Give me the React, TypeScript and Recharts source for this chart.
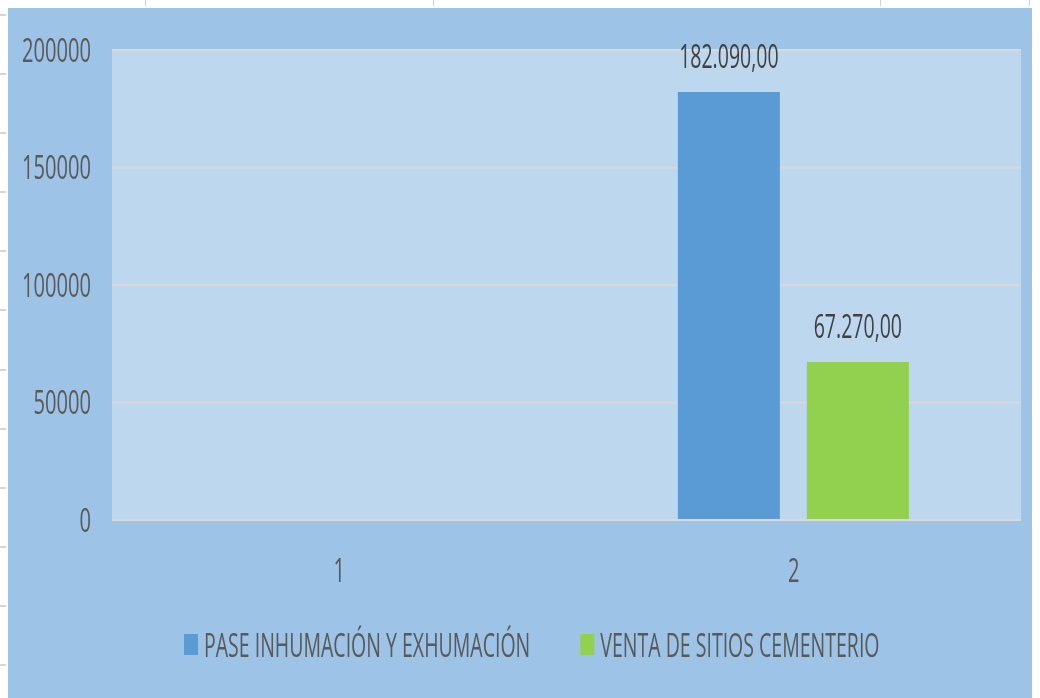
import React from 'react'
import { BarChart, Bar, XAxis, YAxis, CartesianGrid, Legend, LabelList } from 'recharts'

const categories = ['1', '2']
const paseValues: (number | null)[] = [null, 182090]
const ventaValues: (number | null)[] = [null, 67270]
const yTicks = [0, 50000, 100000, 150000, 200000]
const seriesNames = ['PASE INHUMACIÓN Y EXHUMACIÓN', 'VENTA DE SITIOS CEMENTERIO']
const seriesColors = ['#5B9BD5', '#92D050']

const data = categories.map((c, i) => ({ cat: c, pase: paseValues[i], venta: ventaValues[i] }))

// the source font is a narrow one, so squeeze a normal sans horizontally
const SX = 0.61
const FONT = '"Open Sans", "Noto Sans", sans-serif'

const fmt = (v: number) => {
  const [int, dec] = v.toFixed(2).split('.')
  return int.replace(/\B(?=(\d{3})+(?!\d))/g, '.') + ',' + dec
}

const measure = (text: string, size: number) => {
  const ctx = document.createElement('canvas').getContext('2d')
  if (!ctx) return text.length * size * 0.6
  ctx.font = `${size}px ${FONT}`
  return ctx.measureText(text).width
}

const YTick = (props: any) => {
  const { x, y, payload } = props
  return (
    <g transform={`translate(${x},${y})`}>
      <text transform={`scale(${SX},1)`} textAnchor="end" dy={11.5} fill="#595959" fontSize={33} fontFamily={FONT}>
        {payload.value}
      </text>
    </g>
  )
}

const XTick = (props: any) => {
  const { x, y, payload } = props
  return (
    <g transform={`translate(${x},${y})`}>
      <text transform={`scale(${SX},1)`} textAnchor="middle" dy={62} fill="#595959" fontSize={33} fontFamily={FONT}>
        {payload.value}
      </text>
    </g>
  )
}

const BarLabel = (props: any) => {
  const { x, y, width, value } = props
  if (value == null) return null
  return (
    <g transform={`translate(${x + width / 2},${y - 24})`}>
      <text transform={`scale(${SX},1)`} textAnchor="middle" fill="#404040" fontSize={32} fontFamily={FONT}>
        {fmt(value)}
      </text>
    </g>
  )
}

const LegendContent = () => {
  const size = 32
  let cursor = 0
  const items = seriesNames.map((name, i) => {
    const w = measure(name, size) * SX
    const item = { name, color: seriesColors[i], x: cursor }
    cursor += 20 + w + 50
    return item
  })
  return (
    <div style={{ height: 40, paddingLeft: 176 }}>
      <svg width={cursor + 40} height={40} style={{ display: 'block', overflow: 'visible' }}>
        {items.map((it) => (
          <g key={it.name}>
            <rect x={it.x} y={6} width={14} height={21} fill={it.color} />
            <g transform={`translate(${it.x + 20},28.5)`}>
              <text transform={`scale(${SX},1)`} fill="#595959" fontSize={size} fontFamily={FONT}>
                {it.name}
              </text>
            </g>
          </g>
        ))}
      </svg>
    </div>
  )
}

const colLines = [145, 433, 880, 1029]
const rowLines = [14, 73, 132, 191, 250, 309, 369, 428, 487, 546, 605, 664]

export default function App() {
  return (
    <div>
      {colLines.map((x) => (
        <div key={x} style={{ position: 'fixed', left: x, top: 0, width: 1, height: 6, background: '#d0d0d0' }} />
      ))}
      {rowLines.map((y) => (
        <div key={y} style={{ position: 'fixed', left: 0, top: y, width: 6, height: 2, background: '#d6d6d6' }} />
      ))}
      <div style={{ width: 1032, height: 690, background: '#9DC3E6', boxShadow: '0 0 0 2px #d6d6d6' }}>
        <BarChart
          width={1032}
          height={690}
          data={data}
          margin={{ top: 42, right: 19, left: 0, bottom: 30 }}
          barCategoryGap="24.5%"
          barGap={27}
        >
          <CartesianGrid vertical={false} stroke="#D9D9D9" strokeWidth={2} fill="#BDD7EE" fillOpacity={1} />
          <XAxis
            dataKey="cat"
            height={108}
            tickSize={0}
            tickMargin={0}
            tickLine={false}
            axisLine={{ stroke: '#D9D9D9', strokeWidth: 2 }}
            tick={<XTick />}
          />
          <YAxis
            width={104}
            domain={[0, 200000]}
            ticks={yTicks}
            tickSize={0}
            tickMargin={21}
            axisLine={false}
            tickLine={false}
            tick={<YTick />}
          />
          <Legend verticalAlign="bottom" wrapperStyle={{ left: 0, width: 1032 }} content={<LegendContent />} />
          <Bar dataKey="pase" name={seriesNames[0]} fill={seriesColors[0]} isAnimationActive={false}>
            <LabelList dataKey="pase" content={<BarLabel />} />
          </Bar>
          <Bar dataKey="venta" name={seriesNames[1]} fill={seriesColors[1]} isAnimationActive={false}>
            <LabelList dataKey="venta" content={<BarLabel />} />
          </Bar>
        </BarChart>
      </div>
    </div>
  )
}
